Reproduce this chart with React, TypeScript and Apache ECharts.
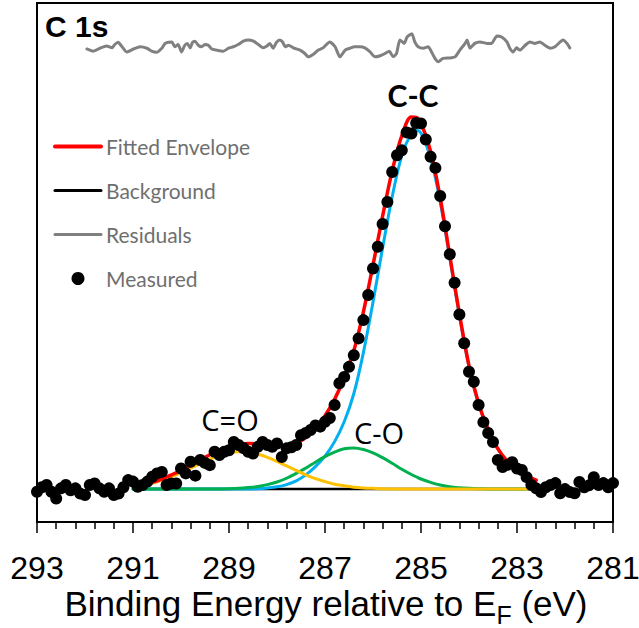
import { useEffect, useRef } from "react";
import * as echarts from "echarts";

// Measured spectrum (binding energy, eV) and intensity (normalised to C-C peak)
const measuredEnergy = [
  293.0, 292.9, 292.8, 292.7, 292.6, 292.5, 292.4, 292.3, 292.2, 292.1,
  292.0, 291.9, 291.8, 291.7, 291.6, 291.5, 291.4, 291.3, 291.2, 291.1,
  291.0, 290.9, 290.8, 290.7, 290.6, 290.5, 290.4, 290.3, 290.2, 290.1,
  290.0, 289.9, 289.8, 289.7, 289.6, 289.5, 289.4, 289.3, 289.2, 289.1,
  289.0, 288.9, 288.8, 288.7, 288.6, 288.5, 288.4, 288.3, 288.2, 288.1,
  288.0, 287.9, 287.8, 287.7, 287.6, 287.5, 287.4, 287.3, 287.2, 287.1,
  287.0, 286.9, 286.8, 286.7, 286.6, 286.5, 286.4, 286.3, 286.2, 286.1,
  286.0, 285.9, 285.8, 285.7, 285.6, 285.5, 285.4, 285.3, 285.2, 285.1,
  285.0, 284.9, 284.8, 284.7, 284.6, 284.5, 284.4, 284.3, 284.2, 284.1,
  284.0, 283.9, 283.8, 283.7, 283.6, 283.5, 283.4, 283.3, 283.2, 283.1,
  283.0, 282.9, 282.8, 282.7, 282.6, 282.5, 282.4, 282.3, 282.2, 282.1,
  282.0, 281.9, 281.8, 281.7, 281.6, 281.5, 281.4, 281.3, 281.2, 281.1,
  281.0,
];
const measuredIntensity = [
  -0.007, 0.005, 0.011, -0.007, -0.025, 0.002, 0.011, -0.003, 0.002, -0.012,
  -0.016, 0.011, 0.015, 0.002, -0.007, 0.002, -0.016, -0.012, 0.005, 0.024,
  0.02, 0.006, 0.011, 0.02, 0.033, 0.042, 0.046, 0.011, 0.015, 0.015,
  0.055, 0.042, 0.073, 0.036, 0.078, 0.07, 0.064, 0.1, 0.091, 0.1,
  0.104, 0.126, 0.118, 0.11, 0.1, 0.095, 0.113, 0.126, 0.118, 0.113,
  0.122, 0.086, 0.109, 0.112, 0.118, 0.144, 0.15, 0.158, 0.17, 0.167,
  0.18, 0.19, 0.225, 0.283, 0.3, 0.327, 0.358, 0.403, 0.452, 0.519,
  0.59, 0.648, 0.709, 0.768, 0.848, 0.893, 0.906, 0.954, 0.951, 0.979,
  0.978, 0.935, 0.889, 0.859, 0.784, 0.703, 0.628, 0.552, 0.467, 0.39,
  0.314, 0.287, 0.225, 0.179, 0.15, 0.126, 0.078, 0.059, 0.065, 0.072,
  0.055, 0.051, 0.032, 0.011, 0.002, -0.008, 0.005, 0.011, 0.016, -0.011,
  0.0, -0.008, -0.011, 0.019, 0.005, 0.01, 0.032, 0.011, 0.016, 0.005,
  0.016,
];

// Fit region energies
const fitEnergy = [
  291.0, 290.8, 290.6, 290.4, 290.2, 290.0, 289.8, 289.6, 289.4, 289.2,
  289.0, 288.8, 288.6, 288.4, 288.2, 288.0, 287.8, 287.6, 287.4, 287.2,
  287.0, 286.8, 286.6, 286.4, 286.2, 286.0, 285.8, 285.6, 285.4, 285.2,
  285.1, 285.0, 284.8, 284.6, 284.4, 284.2, 284.0, 283.8, 283.6, 283.4,
  283.2, 283.0, 282.8, 282.6,
];
const fittedEnvelope = [
  0.007, 0.012, 0.018, 0.027, 0.038, 0.05, 0.064, 0.078, 0.092, 0.104,
  0.113, 0.119, 0.122, 0.121, 0.118, 0.115, 0.116, 0.123, 0.138, 0.162,
  0.196, 0.24, 0.298, 0.37, 0.474, 0.599, 0.73, 0.851, 0.945, 0.995,
  0.994, 0.979, 0.904, 0.779, 0.624, 0.469, 0.33, 0.229, 0.16, 0.108,
  0.074, 0.051, 0.035, 0.024,
];
const ccComponent = [
  0, 0, 0, 0, 0, 0, 0, 0, 0, 0,
  0, 0, 0, 0.001, 0.003, 0.006, 0.012, 0.022, 0.038, 0.06,
  0.088, 0.127, 0.18, 0.255, 0.365, 0.5, 0.645, 0.782, 0.892, 0.952,
  0.96, 0.952, 0.886, 0.768, 0.618, 0.465, 0.328, 0.228, 0.16, 0.108,
  0.074, 0.051, 0.035, 0.024,
];
const coComponent = [
  0, 0, 0, 0, 0, 0, 0, 0, 0.0002, 0.0005,
  0.001, 0.002, 0.004, 0.007, 0.012, 0.019, 0.029, 0.042, 0.056, 0.072,
  0.087, 0.099, 0.108, 0.11, 0.106, 0.097, 0.084, 0.069, 0.053, 0.039,
  0.033, 0.027, 0.018, 0.011, 0.006, 0.0035, 0.002, 0.001, 0.0004, 0,
  0, 0, 0, 0,
];
const cdoComponent = [
  0.007, 0.011, 0.016, 0.024, 0.033, 0.044, 0.056, 0.068, 0.08, 0.09,
  0.097, 0.1, 0.099, 0.094, 0.085, 0.074, 0.062, 0.05, 0.038, 0.028,
  0.02, 0.013, 0.009, 0.005, 0.003, 0.002, 0.001, 0.0005, 0.0002, 0,
  0, 0, 0, 0, 0, 0, 0, 0, 0, 0,
  0, 0, 0, 0,
];
const backgroundEnergy = [291.0, 282.6];
const backgroundValue = [0, 0];

// Residuals [energy, residual]
const residualPoints = [
  [291.96, 0.003], [291.83, -0.003], [291.69, 0.005], [291.55, 0.011], [291.44, 0.006],
  [291.38, 0.015], [291.31, 0.021], [291.24, 0.011], [291.13, -0.005], [290.99, 0.003],
  [290.85, 0.009], [290.71, 0.005], [290.61, -0.003], [290.51, -0.006], [290.4, 0.005],
  [290.33, 0.018], [290.26, 0.021], [290.19, 0.022], [290.13, 0.009], [290.06, 0.015],
  [289.99, -0.005], [289.92, 0.013], [289.87, 0.018], [289.81, 0.006], [289.76, 0.021],
  [289.71, 0.024], [289.64, 0.013], [289.57, 0.009], [289.5, 0.015], [289.43, 0.013],
  [289.36, 0.003], [289.26, 0.0], [289.12, -0.003], [289.01, 0.005], [288.91, 0.009],
  [288.81, 0.015], [288.7, 0.024], [288.6, 0.027], [288.49, 0.024], [288.39, 0.015],
  [288.29, 0.006], [288.21, 0.011], [288.15, 0.018], [288.08, 0.005], [288.01, 0.021],
  [287.94, 0.027], [287.88, 0.021], [287.83, 0.009], [287.76, 0.013], [287.66, 0.006],
  [287.52, 0.0], [287.42, -0.009], [287.35, -0.018], [287.24, -0.011], [287.14, 0.0],
  [287.04, 0.006], [286.9, 0.022], [286.79, 0.009], [286.69, -0.018], [286.58, 0.0],
  [286.48, 0.005], [286.38, 0.009], [286.27, 0.009], [286.17, 0.006], [286.06, -0.005],
  [285.96, -0.018], [285.85, -0.015], [285.75, -0.009], [285.66, -0.003], [285.58, -0.018],
  [285.51, -0.009], [285.44, 0.027], [285.35, 0.018], [285.29, 0.035], [285.19, 0.044],
  [285.13, 0.022], [285.06, 0.009], [284.95, 0.005], [284.85, 0.009], [284.78, -0.005],
  [284.71, -0.022], [284.64, -0.031], [284.54, -0.022], [284.4, -0.021], [284.29, -0.018],
  [284.19, 0.0], [284.08, 0.018], [284.04, 0.027], [283.98, 0.005], [283.88, 0.018],
  [283.77, 0.022], [283.63, 0.018], [283.53, 0.018], [283.42, 0.038], [283.32, 0.035],
  [283.21, 0.022], [283.15, 0.005], [283.08, -0.005], [283.01, 0.006], [282.94, 0.0],
  [282.83, 0.013], [282.73, 0.022], [282.63, 0.018], [282.52, 0.022], [282.42, 0.013],
  [282.31, 0.005], [282.21, 0.009], [282.1, 0.022], [282.04, 0.027], [281.96, 0.018],
  [281.9, 0.006],
];

const legendNames = ["Fitted Envelope", "Background", "Residuals", "Measured"];
const xTitleParts = ["Binding Energy relative to E", "F", " (eV)"];

const pairs = (xs: number[], ys: number[]) => xs.map((x, i) => [x, ys[i]]);

const measure = (text: string, font: string) => {
  const ctx = document.createElement("canvas").getContext("2d");
  if (!ctx) return text.length * 16;
  ctx.font = font;
  return ctx.measureText(text).width;
};

export default function App() {
  const ref = useRef<HTMLDivElement>(null);
  useEffect(() => {
    if (!ref.current) return;
    const chart = echarts.init(ref.current, null, { renderer: "svg" });
    const line = (name: string, data: number[][], color: string, width: number, z: number, extra: any = {}) => ({
      type: "line",
      name,
      data,
      color,
      symbol: "none",
      showSymbol: false,
      smooth: 0.35,
      lineStyle: { color, width, cap: "round", join: "round" },
      z,
      silent: true,
      ...extra,
    });
    const hiddenSymbol = { opacity: 0, borderWidth: 0 };

    // x-axis title with subscript, laid out from measured text widths
    const mainSize = 35;
    const subSize = 25;
    const mainFont = `${mainSize}px "Liberation Sans"`;
    const subFont = `${subSize}px "Liberation Sans"`;
    const wA = measure(xTitleParts[0], mainFont);
    const wB = measure(xTitleParts[1], subFont);
    const wC = measure(xTitleParts[2], mainFont);
    const titleCenter = 326;
    const startX = titleCenter - (wA + wB + wC) / 2;
    const mainBaseline = 616;
    const subBaseline = 624;
    const mainY = mainBaseline - 0.3465 * mainSize;
    const subY = subBaseline - 0.3465 * subSize;
    const titleText = (text: string, x: number, y: number, size: number) => ({
      type: "text",
      x,
      y,
      silent: true,
      style: {
        text,
        fontSize: size,
        fontFamily: "Liberation Sans",
        fill: "#000",
        align: "left",
        verticalAlign: "middle",
      },
    });

    chart.setOption({
      animation: false,
      grid: {
        left: 37,
        right: 26,
        top: 3,
        bottom: 106,
        show: true,
        borderColor: "#000",
        borderWidth: 2,
        containLabel: false,
        outerBoundsMode: "none",
      },
      legend: {
        orient: "vertical",
        left: 53,
        top: 136,
        padding: 0,
        itemWidth: 46,
        itemHeight: 13,
        itemGap: 23,
        selectedMode: false,
        textStyle: { fontFamily: "Lato", fontSize: 21, color: "#6f6f6f", lineHeight: 21 },
        data: [
          { name: legendNames[0], lineStyle: { width: 4 }, itemStyle: hiddenSymbol },
          { name: legendNames[1], lineStyle: { width: 3 }, itemStyle: hiddenSymbol },
          { name: legendNames[2], lineStyle: { width: 3 }, itemStyle: hiddenSymbol },
          { name: legendNames[3], itemStyle: { opacity: 1 } },
        ],
      },
      xAxis: {
        type: "value",
        inverse: true,
        min: 281,
        max: 293,
        interval: 2,
        axisLine: { show: true, onZero: false, lineStyle: { color: "#000", width: 2 } },
        axisTick: { show: true, length: 11, lineStyle: { color: "#000", width: 1.5 } },
        minorTick: { show: true, splitNumber: 5, length: 7, lineStyle: { color: "#000", width: 1.5 } },
        splitLine: { show: false },
        minorSplitLine: { show: false },
        axisLabel: {
          fontSize: 32,
          color: "#000",
          fontFamily: "Liberation Sans",
          margin: 30,
          showMinLabel: true,
          showMaxLabel: true,
        },
      },
      yAxis: [
        {
          type: "value",
          min: -0.088,
          max: 1.3,
          axisLine: { show: false },
          axisTick: { show: false },
          axisLabel: { show: false },
          splitLine: { show: false },
        },
        {
          type: "value",
          min: -1.262,
          max: 0.126,
          show: false,
          splitLine: { show: false },
        },
      ],
      graphic: [
        titleText(xTitleParts[0], startX, mainY, mainSize),
        titleText(xTitleParts[1], startX + wA, subY, subSize),
        titleText(xTitleParts[2], startX + wA + wB, mainY, mainSize),
        {
          type: "text",
          x: 45,
          y: 26,
          style: {
            text: "C 1s",
            fontSize: 30,
            fontWeight: "bold",
            fontFamily: "Liberation Sans",
            fill: "#000",
            align: "left",
            verticalAlign: "middle",
          },
        },
        {
          type: "text",
          x: 413,
          y: 95,
          style: {
            text: "C-C",
            fontSize: 30,
            fontWeight: "bold",
            fontFamily: "Lato",
            fill: "#000",
            align: "center",
            verticalAlign: "middle",
          },
        },
        {
          type: "text",
          x: 230,
          y: 419,
          style: {
            text: "C=O",
            fontSize: 29,
            fontFamily: "Open Sans",
            fill: "#000",
            align: "center",
            verticalAlign: "middle",
          },
        },
        {
          type: "text",
          x: 379,
          y: 432,
          style: {
            text: "C-O",
            fontSize: 29,
            fontFamily: "Open Sans",
            fill: "#000",
            align: "center",
            verticalAlign: "middle",
          },
        },
      ],
      series: [
        line("Background", pairs(backgroundEnergy, backgroundValue), "#000000", 2.5, 2, { smooth: false }),
        line("C-C", pairs(fitEnergy, ccComponent), "#00B0F0", 3, 3),
        line("C-O", pairs(fitEnergy, coComponent), "#00B050", 3, 4),
        line("C=O", pairs(fitEnergy, cdoComponent), "#FFC000", 3, 5),
        line("Fitted Envelope", pairs(fitEnergy, fittedEnvelope), "#FF0000", 3.5, 6),
        line("Residuals", residualPoints, "#808080", 3, 6, { yAxisIndex: 1, smooth: 0.2 }),
        {
          type: "scatter",
          name: "Measured",
          data: pairs(measuredEnergy, measuredIntensity),
          symbol: "circle",
          symbolSize: 12,
          color: "#000000",
          itemStyle: { color: "#000000", opacity: 1 },
          z: 10,
          silent: true,
        },
      ],
    });
    return () => chart.dispose();
  }, []);
  return (
    <div
      ref={ref}
      style={{ position: "fixed", left: 0, top: 0, width: 639, height: 628, background: "#fff" }}
    />
  );
}
